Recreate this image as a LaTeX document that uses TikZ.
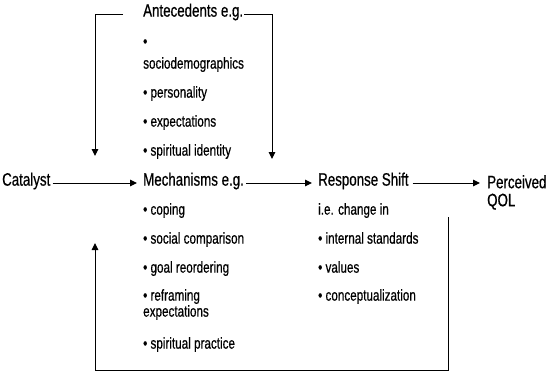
\documentclass[tikz,border=0pt]{standalone}
\usepackage{fontspec}
\setmainfont{Liberation Sans}[FakeStretch=0.74,FakeBold=0.6]
\usetikzlibrary{arrows.meta}
\begin{document}
\begin{tikzpicture}[x=1pt,y=-1pt,
  big/.style={anchor=mid west,inner sep=0pt,font=\fontsize{18}{18}\selectfont},
  item/.style={anchor=mid west,inner sep=0pt,font=\fontsize{15.8}{16}\selectfont},
  arr/.style={line width=1pt,-{Triangle[length=7pt,width=6.5pt]}}]
\useasboundingbox (0,0) rectangle (548,375);
% main nodes
\node[big] (cat) at (2,183) {Catalyst};
\node[big] (mech) at (143,183) {Mechanisms e.g.};
\node[big] (resp) at (318,183) {Response Shift};
\node[big,align=left,anchor=north west] (qol) at (487,175) {Perceived\\[0pt]QOL};
\node[big] (ante) at (143,14) {Antecedents e.g.};
% antecedents items
\node[item] (a0) at (143,44) {•};
\node[item] (a1) at (143,66) {sociodemographics};
\node[item] (a2) at (143,95) {• personality};
\node[item] (a3) at (143,124) {• expectations};
\node[item] (a4) at (143,153) {• spiritual identity};
% mechanisms items
\node[item] (m1) at (143,212) {• coping};
\node[item] (m2) at (143,241) {• social comparison};
\node[item] (m3) at (143,270) {• goal reordering};
\node[item] (m4) at (143,298) {• reframing};
\node[item] (m5) at (143,314) {expectations};
\node[item] (m6) at (143,346) {• spiritual practice};
% response shift items
\node[item] (r1) at (318,212) {i.e. change in};
\node[item] (r2) at (318,241) {• internal standards};
\node[item] (r3) at (318,270) {• values};
\node[item] (r4) at (318,298) {• conceptualization};
% coordinates
\coordinate (aL) at (123,14);
\coordinate (fbL) at (95,156);
\coordinate (fbR) at (272,159);
\coordinate (bTop) at (448,217);
\coordinate (bBot) at (448,370);
\coordinate (bUp) at (95,243);
\coordinate (qolIn) at (480,183);
% connectors
\draw[arr] ([xshift=2pt]cat.mid east) -- ([xshift=-6pt]mech.mid west);
\draw[arr] ([xshift=2pt]mech.mid east) -- ([xshift=-6pt]resp.mid west);
\draw[arr] ([xshift=4pt]resp.mid east) -- (qolIn);
\draw[arr] (aL) -| (fbL);
\draw[arr] ([xshift=1pt]ante.mid east) -| (fbR);
\draw[arr] (bTop) -- (bBot) -| (bUp);
\end{tikzpicture}
\end{document}
